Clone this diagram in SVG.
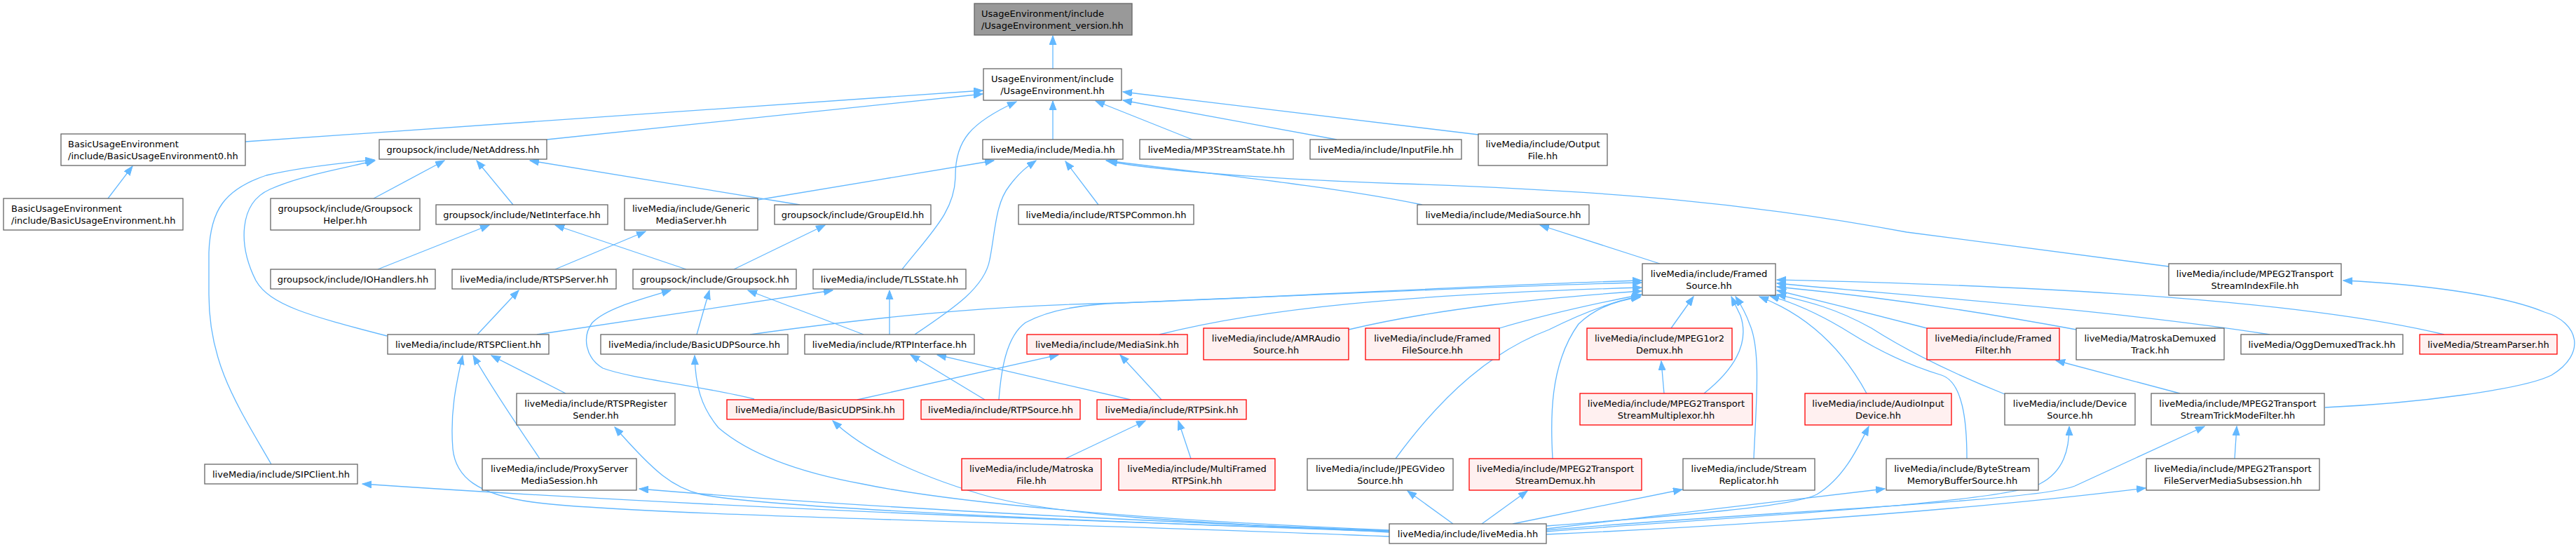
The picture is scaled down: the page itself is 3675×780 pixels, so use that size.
<svg xmlns="http://www.w3.org/2000/svg" width="3675" height="780" viewBox="0 0 3675 780">
<style>
.n rect{fill:#ffffff;stroke:#666666;stroke-width:1.3}
.r rect{fill:#fff0f0;stroke:#ff0000;stroke-width:1.3}
.g rect{fill:#999999;stroke:#666666;stroke-width:1.3}
text{font-family:"DejaVu Sans","Liberation Sans",sans-serif;font-size:13px;fill:#000000;text-anchor:middle}
text.l{text-anchor:start}
#edges path{fill:none;stroke:#63b8ff;stroke-width:1.3;marker-end:url(#ah)}
</style>
<defs>
<marker id="ah" markerUnits="userSpaceOnUse" markerWidth="16" markerHeight="12" refX="13" refY="5" orient="auto">
<path d="M0,0 L13,5 L0,10 z" fill="#63b8ff" stroke="#63b8ff" stroke-width="1"/>
</marker>
</defs>
<rect x="0" y="0" width="3675" height="780" fill="#ffffff"/>
<g id="edges">
<path d="M1502,98 L1502,51"/>
<path d="M350,202 L1402,129"/>
<path d="M780,199 L1402,134"/>
<path d="M1502,199 L1502,144"/>
<path d="M1287,384 C1330,330 1363,300 1363,250 C1363,200 1385,175 1450,145"/>
<path d="M1701,199 L1563,144"/>
<path d="M1907,199 L1602,143"/>
<path d="M2109,192 L1602,131"/>
<path d="M154,283 L189,237"/>
<path d="M533,283 L634,229"/>
<path d="M732,292 L680,229"/>
<path d="M387,662 C340,580 298,520 298,420 L298,360 C300,300 320,270 380,250 C430,238 490,232 534,228"/>
<path d="M552,479 C440,450 385,435 365,400 C340,350 340,290 385,270 C430,250 490,240 535,229"/>
<path d="M1141,292 L756,229"/>
<path d="M539,384 L698,321"/>
<path d="M979,384 L792,321"/>
<path d="M792,384 L921,330"/>
<path d="M1081,285 L1418,229"/>
<path d="M1047,384 L1177,321"/>
<path d="M1076,569 C1000,550 900,540 860,525 C835,510 830,480 845,460 C865,440 910,428 957,414"/>
<path d="M994,477 L1012,414"/>
<path d="M1232,477 L1067,414"/>
<path d="M1269,477 L1269,414"/>
<path d="M766,477 L1188,414"/>
<path d="M1305,477 C1360,440 1405,410 1412,370 C1420,330 1420,290 1440,265 C1455,245 1465,238 1478,229"/>
<path d="M681,477 L740,414"/>
<path d="M807,561 L701,507"/>
<path d="M770,654 C740,610 700,550 675,507"/>
<path d="M1982,765 C1500,745 900,735 760,716 C680,705 650,680 646,640 C642,590 650,550 660,507"/>
<path d="M1982,758 C1600,745 1100,725 1000,705 C960,695 935,675 877,609"/>
<path d="M1982,757 Q1300,730 912,697"/>
<path d="M1982,757 Q1100,730 517,690"/>
<path d="M1982,756 C1600,740 1350,715 1230,690 C1120,670 1060,640 1025,610 C1000,580 992,550 991,507"/>
<path d="M1982,759 C1700,745 1500,735 1400,705 C1300,675 1230,640 1188,600"/>
<path d="M2073,747 L2008,700"/>
<path d="M2114,747 L2179,700"/>
<path d="M2158,747 L2400,698"/>
<path d="M2206,750 C2400,735 2560,722 2592,705 C2630,682 2650,640 2666,608"/>
<path d="M2206,754 L2689,697"/>
<path d="M2206,758 C2500,735 2850,718 2910,690 C2945,672 2952,640 2952,608"/>
<path d="M2206,756 C2500,730 2900,716 2960,693 L3145,608"/>
<path d="M2206,762 Q2700,740 3061,696"/>
<path d="M1070,477 C1300,445 1450,435 1600,432 C1900,420 2150,405 2342,400"/>
<path d="M1425,570 C1428,530 1435,480 1463,460 C1500,440 1550,434 1600,432 C1900,420 2150,407 2342,403"/>
<path d="M1654,477 C1800,440 2000,420 2342,410"/>
<path d="M1924,470 C2050,440 2200,425 2342,415"/>
<path d="M2139,468 C2200,450 2280,432 2342,420"/>
<path d="M1991,654 C2060,560 2130,500 2210,470 C2260,445 2300,430 2341,422"/>
<path d="M2215,654 C2212,600 2210,520 2252,462 C2275,440 2305,428 2340,424"/>
<path d="M2384,468 L2416,423"/>
<path d="M2431,561 C2480,522 2495,485 2483,450 L2470,423"/>
<path d="M2374,561 L2370,515"/>
<path d="M2502,654 C2505,580 2513,500 2496,462 C2490,445 2484,435 2476,423"/>
<path d="M2663,561 C2630,500 2580,450 2510,423"/>
<path d="M2860,562 C2780,530 2720,500 2670,468 C2620,440 2580,430 2535,420"/>
<path d="M2806,654 C2806,600 2800,545 2770,535 C2720,520 2680,500 2640,475 C2600,450 2560,432 2525,422"/>
<path d="M2749,468 C2700,455 2600,430 2535,414"/>
<path d="M2962,470 C2800,440 2650,420 2535,409"/>
<path d="M3238,477 C3000,440 2700,420 2535,404"/>
<path d="M3487,477 C3250,420 2800,405 2535,399"/>
<path d="M3110,561 L2933,514"/>
<path d="M3317,581 C3450,575 3600,555 3640,535 C3690,505 3680,460 3630,445 C3570,420 3450,405 3343,400"/>
<path d="M3188,654 L3191,608"/>
<path d="M2029,292 C1900,265 1700,245 1578,229"/>
<path d="M3094,380 L2720,331 C2500,290 2300,272 2000,262 C1800,255 1650,243 1581,230"/>
<path d="M1567,292 L1520,230"/>
<path d="M2368,376 L2197,321"/>
<path d="M1613,570 L1337,506"/>
<path d="M1405,570 L1299,506"/>
<path d="M1223,570 L1510,506"/>
<path d="M1657,570 L1598,506"/>
<path d="M1520,654 L1634,600"/>
<path d="M1699,654 L1681,600"/>
</g>
<g id="n_ver" class="g"><rect x="1390" y="5" width="225" height="45"/><text class="l" x="1400" y="24">UsageEnvironment/include</text><text class="l" x="1400" y="40.5">/UsageEnvironment_version.hh</text></g>
<g id="n_ue" class="n"><rect x="1403" y="98" width="197" height="45"/><text x="1501.5" y="117">UsageEnvironment/include</text><text x="1501.5" y="133.5">/UsageEnvironment.hh</text></g>
<g id="n_bue0" class="n"><rect x="87" y="191" width="263" height="45"/><text class="l" x="97" y="210">BasicUsageEnvironment</text><text class="l" x="97" y="226.5">/include/BasicUsageEnvironment0.hh</text></g>
<g id="n_bue" class="n"><rect x="5" y="283" width="256" height="45"/><text class="l" x="16" y="302">BasicUsageEnvironment</text><text class="l" x="16" y="318.5">/include/BasicUsageEnvironment.hh</text></g>
<g id="n_netaddr" class="n"><rect x="541" y="199" width="239" height="28"/><text x="660.5" y="217.5">groupsock/include/NetAddress.hh</text></g>
<g id="n_gshelper" class="n"><rect x="386" y="283" width="213" height="45"/><text x="492.5" y="302">groupsock/include/Groupsock</text><text x="492.5" y="318.5">Helper.hh</text></g>
<g id="n_netif" class="n"><rect x="622" y="292" width="245" height="28"/><text x="744.5" y="310.5">groupsock/include/NetInterface.hh</text></g>
<g id="n_gms" class="n"><rect x="891" y="283" width="190" height="45"/><text x="986" y="302">liveMedia/include/Generic</text><text x="986" y="318.5">MediaServer.hh</text></g>
<g id="n_ioh" class="n"><rect x="386" y="384" width="235" height="28"/><text x="503.5" y="402.5">groupsock/include/IOHandlers.hh</text></g>
<g id="n_rtspserver" class="n"><rect x="645" y="384" width="234" height="28"/><text x="762" y="402.5">liveMedia/include/RTSPServer.hh</text></g>
<g id="n_groupsock" class="n"><rect x="903" y="384" width="233" height="28"/><text x="1019.5" y="402.5">groupsock/include/Groupsock.hh</text></g>
<g id="n_tls" class="n"><rect x="1160" y="384" width="218" height="28"/><text x="1269" y="402.5">liveMedia/include/TLSState.hh</text></g>
<g id="n_rtspclient" class="n"><rect x="553" y="477" width="230" height="28"/><text x="668" y="495.5">liveMedia/include/RTSPClient.hh</text></g>
<g id="n_budpsrc" class="n"><rect x="857" y="477" width="267" height="28"/><text x="990.5" y="495.5">liveMedia/include/BasicUDPSource.hh</text></g>
<g id="n_rtpif" class="n"><rect x="1148" y="477" width="242" height="28"/><text x="1269" y="495.5">liveMedia/include/RTPInterface.hh</text></g>
<g id="n_mediasink" class="r"><rect x="1465" y="477" width="229" height="28"/><text x="1579.5" y="495.5">liveMedia/include/MediaSink.hh</text></g>
<g id="n_rtspreg" class="n"><rect x="737" y="561" width="226" height="45"/><text x="850" y="580">liveMedia/include/RTSPRegister</text><text x="850" y="596.5">Sender.hh</text></g>
<g id="n_budpsink" class="r"><rect x="1037" y="570" width="252" height="28"/><text x="1163" y="588.5">liveMedia/include/BasicUDPSink.hh</text></g>
<g id="n_rtpsrc" class="r"><rect x="1314" y="570" width="227" height="28"/><text x="1427.5" y="588.5">liveMedia/include/RTPSource.hh</text></g>
<g id="n_rtpsink" class="r"><rect x="1565" y="570" width="213" height="28"/><text x="1671.5" y="588.5">liveMedia/include/RTPSink.hh</text></g>
<g id="n_sip" class="n"><rect x="292" y="662" width="218" height="28"/><text x="401" y="680.5">liveMedia/include/SIPClient.hh</text></g>
<g id="n_proxy" class="n"><rect x="688" y="654" width="220" height="45"/><text x="798" y="673">liveMedia/include/ProxyServer</text><text x="798" y="689.5">MediaSession.hh</text></g>
<g id="n_mkvfile" class="r"><rect x="1372" y="654" width="199" height="45"/><text x="1471.5" y="673">liveMedia/include/Matroska</text><text x="1471.5" y="689.5">File.hh</text></g>
<g id="n_mfrtpsink" class="r"><rect x="1596" y="654" width="223" height="45"/><text x="1707.5" y="673">liveMedia/include/MultiFramed</text><text x="1707.5" y="689.5">RTPSink.hh</text></g>
<g id="n_media" class="n"><rect x="1402" y="199" width="200" height="28"/><text x="1502" y="217.5">liveMedia/include/Media.hh</text></g>
<g id="n_mp3" class="n"><rect x="1626" y="199" width="219" height="28"/><text x="1735.5" y="217.5">liveMedia/MP3StreamState.hh</text></g>
<g id="n_geid" class="n"><rect x="1105" y="292" width="223" height="28"/><text x="1216.5" y="310.5">groupsock/include/GroupEId.hh</text></g>
<g id="n_rtspcommon" class="n"><rect x="1453" y="292" width="250" height="28"/><text x="1578" y="310.5">liveMedia/include/RTSPCommon.hh</text></g>
<g id="n_inputfile" class="n"><rect x="1869" y="199" width="216" height="28"/><text x="1977" y="217.5">liveMedia/include/InputFile.hh</text></g>
<g id="n_outputfile" class="n"><rect x="2109" y="191" width="184" height="45"/><text x="2201" y="210">liveMedia/include/Output</text><text x="2201" y="226.5">File.hh</text></g>
<g id="n_mediasource" class="n"><rect x="2022" y="292" width="245" height="28"/><text x="2144.5" y="310.5">liveMedia/include/MediaSource.hh</text></g>
<g id="n_framedsource" class="n"><rect x="2343" y="376" width="190" height="45"/><text x="2438" y="395">liveMedia/include/Framed</text><text x="2438" y="411.5">Source.hh</text></g>
<g id="n_idxfile" class="n"><rect x="3094" y="376" width="246" height="45"/><text x="3217" y="395">liveMedia/include/MPEG2Transport</text><text x="3217" y="411.5">StreamIndexFile.hh</text></g>
<g id="n_amr" class="r"><rect x="1717" y="468" width="207" height="45"/><text x="1820.5" y="487">liveMedia/include/AMRAudio</text><text x="1820.5" y="503.5">Source.hh</text></g>
<g id="n_ffsrc" class="r"><rect x="1948" y="468" width="191" height="45"/><text x="2043.5" y="487">liveMedia/include/Framed</text><text x="2043.5" y="503.5">FileSource.hh</text></g>
<g id="n_m12demux" class="r"><rect x="2264" y="468" width="207" height="45"/><text x="2367.5" y="487">liveMedia/include/MPEG1or2</text><text x="2367.5" y="503.5">Demux.hh</text></g>
<g id="n_ffilter" class="r"><rect x="2749" y="468" width="189" height="45"/><text x="2843.5" y="487">liveMedia/include/Framed</text><text x="2843.5" y="503.5">Filter.hh</text></g>
<g id="n_mkvtrack" class="n"><rect x="2962" y="468" width="211" height="45"/><text x="3067.5" y="487">liveMedia/MatroskaDemuxed</text><text x="3067.5" y="503.5">Track.hh</text></g>
<g id="n_oggtrack" class="n"><rect x="3197" y="477" width="231" height="28"/><text x="3312.5" y="495.5">liveMedia/OggDemuxedTrack.hh</text></g>
<g id="n_streamparser" class="r"><rect x="3452" y="477" width="196" height="28"/><text x="3550" y="495.5">liveMedia/StreamParser.hh</text></g>
<g id="n_tsmux" class="r"><rect x="2254" y="561" width="246" height="45"/><text x="2377" y="580">liveMedia/include/MPEG2Transport</text><text x="2377" y="596.5">StreamMultiplexor.hh</text></g>
<g id="n_audioin" class="r"><rect x="2575" y="561" width="209" height="45"/><text x="2679.5" y="580">liveMedia/include/AudioInput</text><text x="2679.5" y="596.5">Device.hh</text></g>
<g id="n_devsrc" class="n"><rect x="2860" y="561" width="186" height="45"/><text x="2953" y="580">liveMedia/include/Device</text><text x="2953" y="596.5">Source.hh</text></g>
<g id="n_trick" class="n"><rect x="3069" y="561" width="247" height="45"/><text x="3192.5" y="580">liveMedia/include/MPEG2Transport</text><text x="3192.5" y="596.5">StreamTrickModeFilter.hh</text></g>
<g id="n_jpeg" class="n"><rect x="1865" y="654" width="208" height="45"/><text x="1969" y="673">liveMedia/include/JPEGVideo</text><text x="1969" y="689.5">Source.hh</text></g>
<g id="n_tsdemux" class="r"><rect x="2096" y="654" width="246" height="45"/><text x="2219" y="673">liveMedia/include/MPEG2Transport</text><text x="2219" y="689.5">StreamDemux.hh</text></g>
<g id="n_replicator" class="n"><rect x="2401" y="654" width="188" height="45"/><text x="2495" y="673">liveMedia/include/Stream</text><text x="2495" y="689.5">Replicator.hh</text></g>
<g id="n_bytestream" class="n"><rect x="2691" y="654" width="217" height="45"/><text x="2799.5" y="673">liveMedia/include/ByteStream</text><text x="2799.5" y="689.5">MemoryBufferSource.hh</text></g>
<g id="n_fsms" class="n"><rect x="3062" y="654" width="247" height="45"/><text x="3185.5" y="673">liveMedia/include/MPEG2Transport</text><text x="3185.5" y="689.5">FileServerMediaSubsession.hh</text></g>
<g id="n_livemedia" class="n"><rect x="1982" y="747" width="224" height="28"/><text x="2094" y="765.5">liveMedia/include/liveMedia.hh</text></g>
</svg>
